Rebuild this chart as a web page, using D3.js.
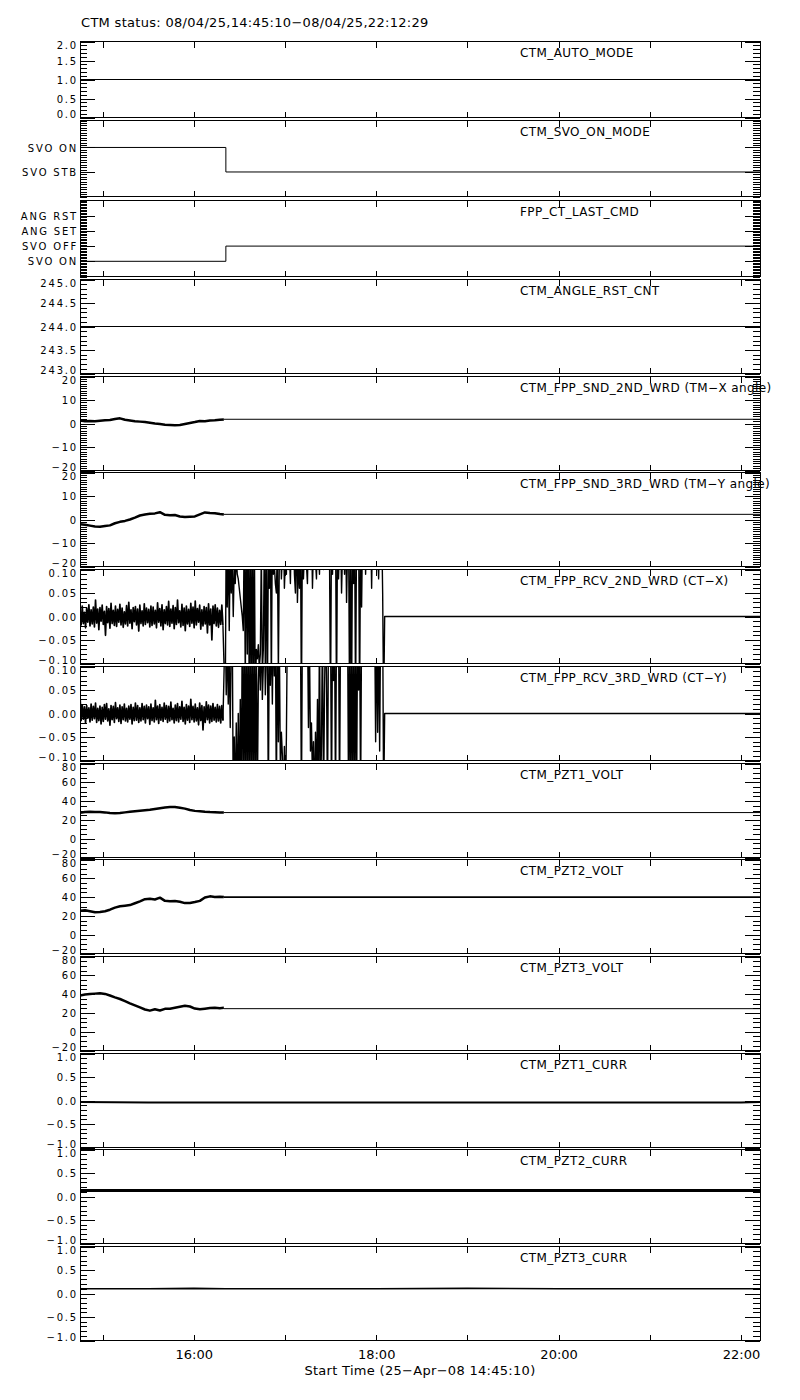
<!DOCTYPE html>
<html><head><meta charset="utf-8">
<script src="https://cdn.jsdelivr.net/npm/d3@7"></script>
<style>
body{margin:0;background:#fff}
svg{display:block}
text{font-family:"DejaVu Sans",sans-serif;fill:#000}
</style>
</head><body>
<svg id="c" width="800" height="1400"></svg>
<script>
// ---------------- data ----------------
const T0 = 14.75278, T1 = 22.20806;           // 14:45:10 .. 22:12:29 (hours)
const titleText = "CTM status: 08/04/25,14:45:10\u221208/04/25,22:12:29";
const xTitleText = "Start Time (25\u2212Apr\u221208 14:45:10)";
const hourTicks = [15,16,17,18,19,20,21,22];
const hourLabelValues = [16,18,20,22];
const hourLabels = ["16:00","18:00","20:00","22:00"];

const panelNames = ["CTM_AUTO_MODE","CTM_SVO_ON_MODE","FPP_CT_LAST_CMD","CTM_ANGLE_RST_CNT",
  "CTM_FPP_SND_2ND_WRD (TM\u2212X angle)","CTM_FPP_SND_3RD_WRD (TM\u2212Y angle)",
  "CTM_FPP_RCV_2ND_WRD (CT\u2212X)","CTM_FPP_RCV_3RD_WRD (CT\u2212Y)",
  "CTM_PZT1_VOLT","CTM_PZT2_VOLT","CTM_PZT3_VOLT","CTM_PZT1_CURR","CTM_PZT2_CURR","CTM_PZT3_CURR"];
const yDomains = [[0,2],[-1,2.1],[-1,4],[243,245],[-20,20],[-20,20],[-0.1,0.1],[-0.1,0.1],
  [-20,80],[-20,80],[-20,80],[-1,1],[-1,1],[-1,1]];
const majorTickValues = [[0,0.5,1,1.5,2],[0,1],[0,1,2,3],[243,243.5,244,244.5,245],
  [-20,-10,0,10,20],[-20,-10,0,10,20],[-0.1,-0.05,0,0.05,0.1],[-0.1,-0.05,0,0.05,0.1],
  [-20,0,20,40,60,80],[-20,0,20,40,60,80],[-20,0,20,40,60,80],
  [-1,-0.5,0,0.5,1],[-1,-0.5,0,0.5,1],[-1,-0.5,0,0.5,1]];
const M = "\u2212";
const majorTickLabels = [["0.0","0.5","1.0","1.5","2.0"],["SVO STB","SVO ON"],
  ["SVO ON","SVO OFF","ANG SET","ANG RST"],["243.0","243.5","244.0","244.5","245.0"],
  [M+"20",M+"10","0","10","20"],[M+"20",M+"10","0","10","20"],
  [M+"0.10",M+"0.05","0.00","0.05","0.10"],[M+"0.10",M+"0.05","0.00","0.05","0.10"],
  [M+"20","0","20","40","60","80"],[M+"20","0","20","40","60","80"],[M+"20","0","20","40","60","80"],
  [M+"1.0",M+"0.5","0.0","0.5","1.0"],[M+"1.0",M+"0.5","0.0","0.5","1.0"],[M+"1.0",M+"0.5","0.0","0.5","1.0"]];
const minorSteps = [0.1,0.1,0.1,0.1,1,1,0.01,0.01,5,5,5,0.1,0.1,0.1];

// status panels
const switchTime = 16.352;
const autoMode = [[T0,1],[T1,1]];
const svoOnMode = [[T0,1],[switchTime,0],[T1,0]];        // 1 = SVO ON, 0 = SVO STB
const lastCmd = [[T0,0],[switchTime,1],[T1,1]];          // 0 SVO ON, 1 SVO OFF
const angleRstCnt = [[T0,244],[T1,244]];

// active (servo on) samples, shared times
const activeTimes = [14.753,14.808,14.862,14.917,14.972,15.027,15.081,15.136,15.191,15.246,
  15.300,15.355,15.410,15.465,15.519,15.574,15.629,15.684,15.739,15.793,
  15.848,15.903,15.958,16.012,16.067,16.122,16.177,16.231,16.286,16.330];
const sndX = [1.3,1.0,1.1,1.0,1.2,1.4,1.5,1.9,2.2,1.6,1.3,1.0,0.8,0.6,0.3,0.0,-0.2,-0.5,-0.6,-0.7,
  -0.6,-0.2,0.2,0.6,1.1,1.0,1.3,1.4,1.6,1.7];
const sndXHold = 1.8;
const sndY = [-2.0,-2.2,-2.6,-3.0,-3.1,-2.8,-2.5,-1.6,-1.0,-0.6,0.0,0.8,1.7,2.1,2.4,2.6,3.1,2.0,1.8,1.9,
  1.3,1.1,1.2,1.3,2.2,3.0,2.8,2.7,2.3,2.1];
const sndYHold = 2.2;
const pzt1Volt = [27.5,28.5,28.6,28.4,28.3,28.0,27.3,27.0,27.4,28.0,28.6,29.2,29.8,30.3,30.8,31.6,32.5,33.2,33.6,33.7,
  33.0,32.0,30.5,29.6,29.3,28.6,28.3,28.2,27.9,27.8];
const pzt1Hold = 27.8;
const pzt2Volt = [25.6,26.0,25.0,23.8,24.2,25.0,26.6,28.8,30.2,30.8,31.5,33.5,35.5,37.8,38.2,37.5,39.4,36.0,35.6,35.8,
  35.0,33.6,33.8,34.8,36.0,39.5,40.8,40.2,40.4,40.0];
const pzt2Hold = 40.0;
const pzt3Volt = [38.5,39.5,40.0,40.5,41.0,40.2,38.5,36.5,34.8,32.6,30.2,28.0,25.8,23.6,22.4,23.8,22.6,24.3,24.5,25.5,
  26.5,27.6,26.8,24.6,23.8,24.5,25.2,25.6,25.0,25.4];
const pzt3Hold = 24.5;

// CT receive words: quiet band (units 0.001), then unstable period (units 0.01), then 0
const bandStart = 14.753, bandEnd = 16.320;
const rcvXBand = [12,-18,22,-15,9,-24,18,-12,25,-20,14,-16,20,-22,35,-14,16,-28,19,-10,
  24,-17,11,-40,21,-13,17,-25,28,-15,13,-19,22,-21,15,-12,26,-18,18,-23,
  10,-16,23,-20,30,-14,14,-26,19,-11,21,-18,16,-31,24,-15,12,-20,27,-17,
  18,-13,15,-22,22,-19,20,-16,13,-24,29,-12,17,-20,25,-28,14,-15,21,-18,
  32,-21,16,-14,23,-26,19,-17,35,-13,12,-22,26,-19,18,-30,22,-16,15,-21,
  28,-14,20,-24,33,-18,17,-12,24,-27,14,-20,21,-16,19,-35,27,-18,16,-50,
  22,-15,25,-20,18,-23,13,-17,24,-19];
const rcvYBand = [40,-15,18,-12,14,-20,17,-10,12,-18,20,-14,15,-11,22,-19,11,-15,16,-22,
  13,-17,19,-12,21,-16,10,-25,17,-13,15,-19,23,-11,12,-17,18,-21,14,-13,
  20,-16,11,-18,16,-12,19,-22,13,-15,22,-14,17,-19,12,-16,21,-13,15,-20,
  18,-11,14,-23,20,-15,12,-18,28,-13,16,-21,19,-14,13,-17,22,-12,17,-19,
  15,-16,24,-13,11,-20,18,-15,21,-18,14,-12,26,-17,13,-22,19,-14,16,-19,
  30,-13,15,-18,20,-16,12,-24,22,-15,17,-35,14,-19,25,-13,18,-20,16,-17,
  21,-14,13,-18,19,-16,15,-20,17,-15];
const chaosStart = 16.345, chaosEnd = 18.093;
const rcvXChaos = [-20,20,2,16,-3,14,5,12,0,11, 7,13,9,8,6,4,2,0,-3,20,
  -14,18,-8,20,-20,20,-20,20,-20,20, -20,-7,-9,-6,-11,-8,14,-12,-7,16,
  -12,20,-20,13,6,20,-15,20,9,11, 7,5,15,-12,14,20,8,13,20,6,
  12,9,20,10,14,7,20,11,20,9, 5,20,3,12,6,20,-20,20,8,14,
  20,11,7,20,13,10,20,6,15,20, 12,8,20,14,9,20,17,20,10,20,
  15,20,11,20,13,-20,20,9,20,12, 20,-20,20,8,16,20,5,14,20,9,
  20,3,15,20,-20,18,-20,20,7,20, -20,20,10,20,-20,20,2,20,14,20,
  9,20,12,20,15,20,6,20,11,20, 16,20,13,8,20,12,20,5,-20,0];
const rcvYChaos = [20,4,16,2,12,-3,15,20,-20,-5, -20,-2,-20,0,-20,3,-18,20,-20,20,
  -20,20,-20,20,-20,20,-20,20,-20,20, -20,20,-20,6,14,5,20,3,10,20,
  4,12,20,-20,20,6,18,2,20,8, 20,-20,20,-6,15,-12,-4,-9,-20,-7,
  -20,-5,20,14,20,17,20,20,20,20, 20,20,20,20,20,20,-20,20,20,20,
  20,20,20,-3,16,-8,-2,-14,-6,-20, -4,-16,3,-20,20,-20,-6,20,-20,4,
  20,8,-20,20,12,20,-20,20,7,20, -20,20,10,20,-20,20,15,20,20,20,
  20,20,20,-20,20,-20,20,-20,20,-20, 20,-20,20,5,20,-20,20,20,20,20,
  20,20,20,20,20,20,20,20,20,20, -6,20,-4,20,-8,20,20,20,-20,0];
const rcvAfter = 0.0;

// PZT currents (whole interval)
const currTimes = [14.753,15.5,16.0,16.35,17.0,18.0,19.0,20.0,21.0,22.0,22.208];
const pzt1Curr = [-0.03,-0.04,-0.04,-0.04,-0.04,-0.04,-0.04,-0.04,-0.04,-0.04,-0.03];
const pzt2Curr = [0.13,0.13,0.13,0.13,0.13,0.13,0.13,0.13,0.13,0.13,0.13];
const pzt3Curr = [0.10,0.10,0.11,0.10,0.10,0.10,0.11,0.10,0.10,0.10,0.10];

// ---------------- drawing ----------------
const svg = d3.select("#c");
const X0 = 80, X1 = 760;
const x = d3.scaleLinear().domain([T0, T1]).range([X0, X1]);

function panelBox(i){
  if (i < 3) return {top: Math.round(41 + i*79.3), h: 76};
  return {top: Math.round(279 + (i-3)*96.7), h: 94};
}

const zip = (ts, vs) => ts.map((t,i)=>[t, vs[i]]);
const evenly = (vs, a, b, scale) => vs.map((v,i)=>[a + (b-a)*i/(vs.length-1), v*scale]);
const last = a => a[a.length-1];

const series = [
  [{pts:autoMode, w:1}],
  [{pts:svoOnMode, w:1, curve:d3.curveStepAfter}],
  [{pts:lastCmd, w:1, curve:d3.curveStepAfter}],
  [{pts:angleRstCnt, w:1}],
  [{pts:zip(activeTimes,sndX), w:2.5},{pts:[[last(activeTimes),sndXHold],[T1,sndXHold]], w:1}],
  [{pts:zip(activeTimes,sndY), w:2.5},{pts:[[last(activeTimes),sndYHold],[T1,sndYHold]], w:1}],
  [{pts:evenly(rcvXBand,bandStart,bandEnd,0.001), w:1.7},
   {pts:[[bandEnd,last(rcvXBand)*0.001]].concat(evenly(rcvXChaos,chaosStart,chaosEnd,0.01)).concat([[chaosEnd,rcvAfter],[T1,rcvAfter]]), w:1.4}],
  [{pts:evenly(rcvYBand,bandStart,bandEnd,0.001), w:1.7},
   {pts:[[bandEnd,last(rcvYBand)*0.001]].concat(evenly(rcvYChaos,chaosStart,chaosEnd,0.01)).concat([[chaosEnd,rcvAfter],[T1,rcvAfter]]), w:1.4}],
  [{pts:zip(activeTimes,pzt1Volt), w:2.5},{pts:[[last(activeTimes),pzt1Hold],[T1,pzt1Hold]], w:1}],
  [{pts:zip(activeTimes,pzt2Volt), w:2.5},{pts:[[last(activeTimes),pzt2Hold],[T1,pzt2Hold]], w:1.6}],
  [{pts:zip(activeTimes,pzt3Volt), w:2.5},{pts:[[last(activeTimes),pzt3Hold],[T1,pzt3Hold]], w:1}],
  [{pts:zip(currTimes,pzt1Curr), w:2}],
  [{pts:zip(currTimes,pzt2Curr), w:3}],
  [{pts:zip(currTimes,pzt3Curr), w:1.6}]
];

svg.append("text").attr("x", 81).attr("y", 27).attr("font-size", 13).attr("letter-spacing", 0.3).text(titleText);

panelNames.forEach((name, i) => {
  const {top, h} = panelBox(i);
  const g = svg.append("g").attr("transform", `translate(0,${top + 0.5})`);
  const dom = yDomains[i];
  const y = d3.scaleLinear().domain(dom).range([h, 0]);
  const step = minorSteps[i];
  const nMinor = Math.round((dom[1]-dom[0])/step);
  const minor = d3.range(nMinor+1).map(k => dom[0] + k*step);
  const labMap = new Map(majorTickValues[i].map((v,k)=>[v, majorTickLabels[i][k]]));

  const cid = "clip" + i;
  g.append("clipPath").attr("id", cid).append("rect").attr("x", X0).attr("y", 0).attr("width", X1-X0).attr("height", h);
  const dg = g.append("g").attr("clip-path", `url(#${cid})`);
  series[i].forEach(s => {
    const line = d3.line().x(d=>x(d[0])).y(d=>y(d[1])).curve(s.curve || d3.curveLinear);
    dg.append("path").attr("d", line(s.pts)).attr("fill","none").attr("stroke","#000")
      .attr("stroke-width", s.w).attr("stroke-linejoin","round");
  });

  const style = sel => { sel.select(".domain").remove(); sel.attr("color","#000").selectAll("line").attr("shape-rendering","crispEdges"); };

  g.append("g").attr("transform",`translate(${X0},0)`)
    .call(d3.axisLeft(y).tickValues(minor).tickSize(-7).tickFormat("")).call(style);
  const la = g.append("g").attr("transform",`translate(${X0},0)`)
    .call(d3.axisLeft(y).tickValues(majorTickValues[i]).tickSize(-15).tickPadding(2).tickFormat(d=>labMap.get(d))).call(style);
  la.attr("font-family", null).attr("font-size", null);
  la.selectAll("text").attr("font-size", 10).attr("letter-spacing", 1.8)
    .attr("dy", d => d === dom[1] ? "0.74em" : (d === dom[0] ? "-0.04em" : "0.36em"));

  g.append("g").attr("transform",`translate(${X1},0)`)
    .call(d3.axisRight(y).tickValues(minor).tickSize(-7).tickFormat("")).call(style);
  g.append("g").attr("transform",`translate(${X1},0)`)
    .call(d3.axisRight(y).tickValues(majorTickValues[i]).tickSize(-15).tickFormat("")).call(style);

  g.append("g").call(d3.axisTop(x).tickValues(hourTicks).tickSize(-6).tickFormat("")).call(style);
  g.append("g").attr("transform",`translate(0,${h})`)
    .call(d3.axisBottom(x).tickValues(hourTicks).tickSize(-6).tickFormat("")).call(style);

  g.append("rect").attr("x", X0).attr("y", 0).attr("width", X1-X0).attr("height", h)
    .attr("fill","none").attr("stroke","#000").attr("shape-rendering","crispEdges");

  g.append("text").attr("x", 520).attr("y", 15).attr("font-size", 12).attr("letter-spacing", 0.4).text(name);

  if (i === panelNames.length - 1) {
    const lm = new Map(hourLabelValues.map((v,k)=>[v, hourLabels[k]]));
    const xa = g.append("g").attr("transform",`translate(0,${h})`)
      .call(d3.axisBottom(x).tickValues(hourLabelValues).tickSize(0).tickPadding(9).tickFormat(d=>lm.get(d))).call(style);
    xa.attr("font-family", null).attr("font-size", null);
    xa.selectAll("text").attr("font-size", 13);
    g.append("text").attr("x", (X0+X1)/2).attr("y", h + 34).attr("text-anchor","middle")
      .attr("font-size", 13).attr("letter-spacing", 0.3).text(xTitleText);
  }
});
</script>
</body></html>
